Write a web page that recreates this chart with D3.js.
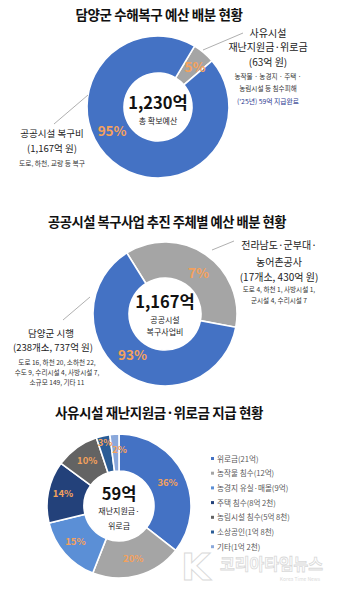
<!DOCTYPE html>
<html><head><meta charset="utf-8">
<script src="https://cdn.jsdelivr.net/npm/d3@7"></script>
<style>
html,body{margin:0;padding:0;background:#fff;}
svg{display:block;font-family:"Noto Sans CJK KR","Noto Sans",sans-serif;}
</style></head>
<body>
<svg id="c" width="358" height="592"></svg>
<script>
// ---- data ----
const titles = ["담양군 수해복구 예산 배분 현황", "공공시설 복구사업 추진 주체별 예산 배분 현황", "사유시설 재난지원금·위로금 지급 현황"];

const c1Labels = ["사유시설 재난지원금·위로금", "공공시설 복구비"];
const c1Values = [63, 1167];
const c1Pct = ["5%", "95%"];
const c1Center = ["1,230억", "총 확보예산"];

const c2Labels = ["전라남도·군부대·농어촌공사", "담양군 시행"];
const c2Values = [430, 737];
const c2Pct = ["7%", "93%"];
const c2Center = ["1,167억", "공공시설", "복구사업비"];

const c3Labels = ["위로금(21억)", "농작물 침수(12억)", "농경지 유실·매몰(9억)", "주택 침수(8억 2천)", "농림시설 침수(5억 8천)", "소상공인(1억 8천)", "기타(1억 2천)"];
const c3Values = [21, 12, 9, 8.2, 5.8, 1.8, 1.2];
const c3Pct = ["36%", "20%", "15%", "14%", "10%", "3%", "2%"];
const c3Center = ["59억", "재난지원금·", "위로금"];

// ---- drawing ----
const svg = d3.select("#c");
const ORANGE = "#f4a15c";
const deg = Math.PI / 180;

function donut(cfg) {
  const g = svg.append("g").attr("transform", `translate(${cfg.cx},${cfg.cy})`);
  const pie = d3.pie().sort(null).value(d => d).startAngle(cfg.start * deg).endAngle(cfg.start * deg + 2 * Math.PI);
  const arcs = pie(cfg.values);
  const arc = d3.arc().innerRadius(cfg.ri).outerRadius(cfg.ro);
  g.selectAll("path").data(arcs).join("path")
    .attr("d", arc)
    .attr("fill", (d, i) => cfg.colors[i])
    .attr("stroke", "#fff").attr("stroke-width", 1.6);
  const lab = d3.arc().innerRadius(cfg.lr || (cfg.ri + cfg.ro) / 2).outerRadius(cfg.lr || (cfg.ri + cfg.ro) / 2);
  g.selectAll("text.pct").data(arcs).join("text")
    .attr("class", "pct")
    .attr("transform", (d, i) => {
      const c = lab.centroid(d);
      const o = (cfg.offs && cfg.offs[i]) || [0, 0];
      return `translate(${c[0] + o[0]},${c[1] + o[1]})`;
    })
    .attr("text-anchor", "middle").attr("dy", "0.36em")
    .attr("font-size", cfg.pctSize).attr("font-weight", 700)
    .attr("fill", ORANGE)
    .text((d, i) => cfg.pct[i]);
  return g;
}

function txt(x, y, s, size, opts = {}) {
  return svg.append("text").attr("x", x).attr("y", y)
    .attr("text-anchor", opts.anchor || "middle")
    .attr("font-size", size)
    .attr("font-weight", opts.bold ? 700 : 400)
    .attr("fill", opts.fill || "#222")
    .attr("letter-spacing", opts.ls || 0)
    .text(s);
}
function line(x1, y1, x2, y2) {
  svg.append("line").attr("x1", x1).attr("y1", y1).attr("x2", x2).attr("y2", y2)
    .attr("stroke", "#b0b0b0").attr("stroke-width", 1);
}

// Chart 1
txt(159, 20, titles[0], 13.5, {bold: true, fill: "#111", ls: -0.4});
const g1 = donut({cx: 158, cy: 107, ri: 34, ro: 71, start: 31, values: c1Values,
  colors: ["#a5a5a5", "#4472c4"], pct: c1Pct, pctSize: 13.5, offs: [[3, 0], [-12, -16]]});
g1.append("text").attr("text-anchor", "middle").attr("y", 2).attr("font-size", 16.5).attr("font-weight", 700).attr("fill", "#111").text(c1Center[0]);
g1.append("text").attr("text-anchor", "middle").attr("y", 17).attr("font-size", 8).attr("fill", "#222").text(c1Center[1]);
line(203, 50, 243, 33);
line(88, 95, 54, 124);
txt(268, 37, "사유시설", 10);
txt(268, 51, "재난지원금·위로금", 10);
txt(268, 66, "(63억 원)", 10);
txt(268, 79, "농작물 · 농경지 · 주택 ·", 6.6, {fill: "#333"});
txt(268, 91, "농림시설  등 침수피해", 6.6, {fill: "#333"});
txt(268, 104, "('25년) 59억 지급완료", 6.8, {fill: "#2b3990"});
txt(52, 137, "공공시설 복구비", 9.5);
txt(52, 152, "(1,167억 원)", 9.5);
txt(52, 166, "도로, 하천, 교량 등 복구", 6.8, {fill: "#333"});

// Chart 2
txt(167, 227, titles[1], 13.3, {bold: true, fill: "#111", ls: -0.5});
const g2 = donut({cx: 165, cy: 314, ri: 36, ro: 72, start: -32, values: c2Values,
  colors: ["#a5a5a5", "#4472c4"], pct: c2Pct, pctSize: 13.5, offs: [[3, 4], [-2, -3]]});
g2.append("text").attr("text-anchor", "middle").attr("y", -6).attr("font-size", 16.5).attr("font-weight", 700).attr("fill", "#111").text(c2Center[0]);
g2.append("text").attr("text-anchor", "middle").attr("y", 9).attr("font-size", 8).attr("fill", "#222").text(c2Center[1]);
g2.append("text").attr("text-anchor", "middle").attr("y", 21).attr("font-size", 8).attr("fill", "#222").text(c2Center[2]);
line(212, 250, 234, 241);
line(90, 297, 63, 320);
txt(279, 249, "전라남도·군부대·", 10);
txt(279, 266, "농어촌공사", 10);
txt(279, 281, "(17개소, 430억 원)", 10);
txt(279, 292, "도로 4, 하천 1, 사방시설 1,", 6.6, {fill: "#333"});
txt(279, 303, "군시설 4, 수리시설 7", 6.6, {fill: "#333"});
txt(51, 337, "담양군 시행", 9.5);
txt(53, 351, "(238개소, 737억 원)", 9.5);
txt(57, 365, "도로 16, 하천 20, 소하천 22,", 6.6, {fill: "#333"});
txt(57, 375, "수도 9, 수리시설 4, 사방시설 7,", 6.6, {fill: "#333"});
txt(57, 385, "소규모 149, 기타 11", 6.6, {fill: "#333"});

// Chart 3
const c3Colors = ["#4472c4", "#a5a5a5", "#5b8fd6", "#23417a", "#636363", "#2a5c96", "#8aa8db"];
txt(159, 418, titles[2], 13.5, {bold: true, fill: "#111", ls: -0.4});
const g3 = donut({cx: 119, cy: 506, ri: 35, ro: 72, start: 0, values: c3Values,
  colors: c3Colors, pct: c3Pct, pctSize: 9.5, lr: 54,
  offs: [[0, 0], [0, 0], [-3, 0], [-3, -2], [0, -2], [-2, -11], [4, -3]]});
g3.append("text").attr("text-anchor", "middle").attr("y", -6).attr("font-size", 16.5).attr("font-weight", 700).attr("fill", "#111").text(c3Center[0]);
g3.append("text").attr("text-anchor", "middle").attr("y", 8).attr("font-size", 8).attr("fill", "#222").text(c3Center[1]);
g3.append("text").attr("text-anchor", "middle").attr("y", 23).attr("font-size", 8).attr("fill", "#222").text(c3Center[2]);

const leg = svg.append("g").attr("transform", "translate(211,459)");
const ly = d3.scaleBand().domain(c3Labels).range([0, 7 * 14.7]);
leg.selectAll("rect").data(c3Labels).join("rect")
  .attr("x", 0).attr("y", d => ly(d) - 2).attr("width", 3).attr("height", 3)
  .attr("fill", (d, i) => c3Colors[i]);
leg.selectAll("text").data(c3Labels).join("text")
  .attr("x", 6).attr("y", d => ly(d)).attr("dy", "0.35em")
  .attr("font-size", 7.6).attr("fill", "#595959").text(d => d);

// watermark
const wm = svg.append("g").attr("opacity", 0.55);
wm.append("text").attr("x", 181).attr("y", 580).attr("font-size", 38).attr("font-weight", 700)
  .attr("fill", "#fff").attr("stroke", "#bbb").attr("stroke-width", 1).attr("font-family", "DejaVu Sans").text("K");
wm.append("text").attr("x", 220).attr("y", 570).attr("font-size", 16).attr("font-weight", 700)
  .attr("fill", "#fff").attr("stroke", "#bbb").attr("stroke-width", 0.8).text("코리아타임뉴스");
wm.append("text").attr("x", 300).attr("y", 581).attr("text-anchor", "middle").attr("font-size", 5)
  .attr("fill", "#bbb").text("Korea Time News");
</script>
</body></html>
